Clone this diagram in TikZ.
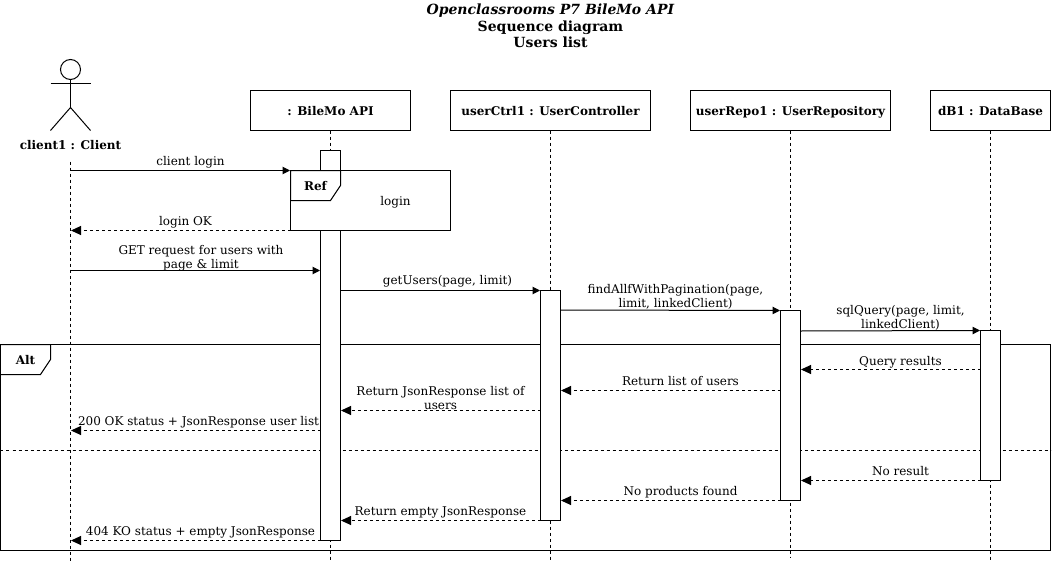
\documentclass[tikz,border=0pt]{standalone}
\usepackage{fontspec}
\setmainfont{DejaVu Serif}
\usetikzlibrary{arrows.meta, positioning, calc}
\tikzset{
	actorbox/.style={rectangle, draw=black, line width=1pt, minimum width=#1, minimum height=40pt, inner sep=0pt, outer sep=0pt, text height=10pt, text depth=0pt, font=\fontsize{12}{14}\selectfont\bfseries, fill=white},
	actbar/.style  ={rectangle, draw=black, line width=1pt, minimum width=20pt, inner sep=0pt, outer sep=0pt, fill=white},
	lifeline/.style={line width=1pt, dash pattern=on 3pt off 3pt},
	callmsg/.style ={-{Triangle[length=7.5pt,width=7.5pt]}, line width=1pt, shorten >=0.5pt},
	backmsg/.style ={-{Triangle[length=10pt,width=9pt]}, line width=1pt, dash pattern=on 3pt off 3pt, shorten >=0.5pt},
	msglabel/.style={inner sep=0pt, align=center, font=\fontsize{12}{14}\selectfont},
	oneline/.style ={inner sep=0pt, anchor=base, font=\fontsize{12}{14}\selectfont},
	framelabel/.style={inner sep=0pt, anchor=base, font=\fontsize{12}{14}\selectfont\bfseries},
}
\begin{document}
\begin{tikzpicture}[x=1pt, y=-1pt]
	\useasboundingbox (-0.5,-0.5) rectangle (1051.5,561.5);
	\node[align=center, inner sep=0pt, font=\fontsize{14}{16.5}\selectfont\bfseries] (title) at (550,25.5)
	{\textit{Openclassrooms P7 BileMo API}\\ Sequence diagram\\ Users list};
	% alt frame
	\node[rectangle, draw=black, line width=1pt, minimum width=1050pt, minimum height=206pt, inner sep=0pt, outer sep=0pt] (altFrame) at (525,447) {};
	\draw[line width=1pt, fill=white] (altFrame.north west) -- ++(50,0) -- ++(0,15) -- ++(-10,15) -- ++(-40,0) -- cycle;
	\node[framelabel] (altLabel) at (25,364) {Alt};
	\coordinate (altSplitL) at (0,450);
	\coordinate (altSplitR) at (1050,450);
	\draw[lifeline] (altSplitL) -- (altSplitR);
	% actor
	\node[circle, draw=black, line width=1pt, minimum size=20pt, inner sep=0pt, outer sep=0pt] (clientHead) at (70,69) {};
	\coordinate (clientArmL) at (50,83);
	\coordinate (clientArmR) at (90,83);
	\coordinate (clientHip) at (70,107);
	\coordinate (clientFootL) at (50,130);
	\coordinate (clientFootR) at (90,130);
	\draw[line width=1pt] (clientHead.south) -- (clientHip);
	\draw[line width=1pt] (clientArmL) -- (clientArmR);
	\draw[line width=1pt] (clientFootL) -- (clientHip) -- (clientFootR);
	\node[framelabel] (clientName) at (70,149) {client1 : Client};
	% lifeline heads
	\node[actorbox=160pt] (api)  at (330,110) {: BileMo API};
	\node[actorbox=200pt] (ctrl) at (550,110) {userCtrl1 : UserController};
	\node[actorbox=200pt] (repo) at (790,110) {userRepo1 : UserRepository};
	\node[actorbox=120pt] (db)   at (990,110) {dB1 : DataBase};
	\coordinate (clientTop) at (70,161);
	\coordinate (clientEnd) at (70,560);
	\coordinate (apiEnd) at (330,560);
	\coordinate (ctrlEnd) at (550,560);
	\coordinate (repoEnd) at (790,557);
	\coordinate (dbEnd) at (990,560);
	\draw[lifeline] (clientTop) -- (clientEnd);
	\draw[lifeline] (api.south) -- (apiEnd);
	\draw[lifeline] (ctrl.south) -- (ctrlEnd);
	\draw[lifeline] (repo.south) -- (repoEnd);
	\draw[lifeline] (db.south) -- (dbEnd);
	% activations
	\node[actbar, minimum height=390pt] (apiBar)  at (330,345) {};
	\node[actbar, minimum height=230pt] (ctrlBar) at (550,405) {};
	\node[actbar, minimum height=190pt] (repoBar) at (790,405) {};
	\node[actbar, minimum height=150pt] (dbBar)   at (990,405) {};
	% ref frame
	\node[rectangle, draw=black, line width=1pt, fill=white, minimum width=160pt, minimum height=60pt, inner sep=0pt, outer sep=0pt] (refFrame) at (370,200) {};
	\draw[line width=1pt] (refFrame.north west) -- ++(50,0) -- ++(0,15) -- ++(-10,15) -- ++(-40,0) -- cycle;
	\node[framelabel] (refLabel) at (315,190) {Ref};
	\node[oneline] (refLogin) at (395,205) {login};
	% messages
	\draw[callmsg] (clientTop |- 0,170) -- (refFrame.west |- 0,170);
	\draw[backmsg] (refFrame.south west) -- (clientTop |- 0,230);
	\draw[callmsg] (clientTop |- 0,270) -- (apiBar.west |- 0,270);
	\draw[callmsg] (apiBar.east |- 0,290) -- (ctrlBar.north west);
	\draw[callmsg] (ctrlBar.east |- 0,309.5) -- (repoBar.north west);
	\draw[callmsg] (repoBar.east |- 0,330.5) -- (dbBar.north west);
	\draw[backmsg] (dbBar.west |- 0,369) -- (repoBar.east |- 0,369);
	\draw[backmsg] (repoBar.west |- 0,390) -- (ctrlBar.east |- 0,390);
	\draw[backmsg] (ctrlBar.west |- 0,410) -- (apiBar.east |- 0,410);
	\draw[backmsg] (apiBar.west |- 0,430) -- (clientTop |- 0,430);
	\draw[backmsg] (dbBar.south west) -- (repoBar.east |- 0,480);
	\draw[backmsg] (repoBar.south west) -- (ctrlBar.east |- 0,500);
	\draw[backmsg] (ctrlBar.south west) -- (apiBar.east |- 0,520);
	\draw[backmsg] (apiBar.south west) -- (clientTop |- 0,540);
	% message labels
	\node[oneline] (lblLogin)    at (190,165) {client login};
	\node[oneline] (lblLoginOk)  at (185,225) {login OK};
	\node[msglabel] (lblGet)     at (200.5,257.5) {GET request for users with\\ page \& limit};
	\node[oneline] (lblGetUsers) at (447,284) {getUsers(page, limit)};
	\node[msglabel] (lblFind)    at (675,296.5) {findAllfWithPagination(page,\\ limit, linkedClient)};
	\node[msglabel] (lblSql)     at (900,317.5) {sqlQuery(page, limit,\\ linkedClient)};
	\node[oneline] (lblQuery)    at (900,365) {Query results};
	\node[oneline] (lblList)     at (680,385) {Return list of users};
	\node[msglabel] (lblJson)    at (440,397.5) {Return JsonResponse list of\\ users};
	\node[oneline] (lblOk)       at (198,425) {200 OK status + JsonResponse user list};
	\node[oneline] (lblNone)     at (900,475) {No result};
	\node[oneline] (lblNoProd)   at (680,495) {No products found};
	\node[oneline] (lblEmpty)    at (440,515) {Return empty JsonResponse};
	\node[oneline] (lblKo)       at (200,535) {404 KO status + empty JsonResponse};
\end{tikzpicture}
\end{document}
